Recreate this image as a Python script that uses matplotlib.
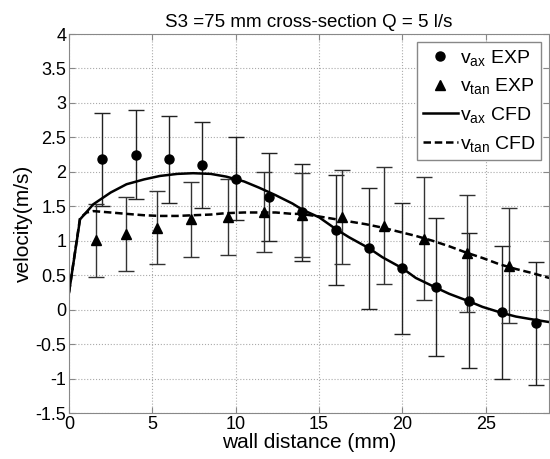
import numpy as np
import matplotlib
matplotlib.use('Agg')
import matplotlib.pyplot as plt

plt.rcParams['font.family'] = ['Liberation Sans', 'DejaVu Sans']
plt.rcParams['mathtext.fontset'] = 'custom'
plt.rcParams['mathtext.rm'] = 'Liberation Sans'
plt.rcParams['mathtext.it'] = 'Liberation Sans'

# experimental axial velocity
x_ax = [2, 4, 6, 8, 10, 12, 14, 16, 18, 20, 22, 24, 26, 28]
v_ax = [2.18, 2.25, 2.18, 2.10, 1.90, 1.64, 1.41, 1.16, 0.89, 0.60, 0.33, 0.13, -0.04, -0.20]
e_ax = [0.68, 0.65, 0.63, 0.62, 0.60, 0.64, 0.71, 0.80, 0.88, 0.95, 1.00, 0.98, 0.96, 0.89]

# experimental tangential velocity
x_tan = [1.6, 3.4, 5.3, 7.3, 9.55, 11.7, 14.0, 16.4, 18.9, 21.3, 23.9, 26.4]
v_tan = [1.01, 1.10, 1.19, 1.31, 1.35, 1.42, 1.38, 1.34, 1.22, 1.03, 0.82, 0.64]
e_tan = [0.53, 0.54, 0.53, 0.54, 0.55, 0.58, 0.61, 0.68, 0.85, 0.89, 0.85, 0.83]

# CFD profiles
x_cfd_ax = [0, 0.66, 1.46, 2.5, 3.45, 4.5, 5.45, 6.5, 7.44, 8.5, 9.44, 10.5, 11.4, 12.4,
            13.4, 14.0, 15.0, 16.0, 16.8, 18.0, 18.8, 20.0, 20.8, 22.0, 22.8, 24.0,
            24.8, 26.0, 26.8, 28.0, 28.8]
v_cfd_ax = [0.25, 1.31, 1.53, 1.70, 1.82, 1.89, 1.94, 1.97, 1.98, 1.97, 1.93, 1.86, 1.77, 1.66,
            1.54, 1.45, 1.34, 1.17, 1.05, 0.89, 0.76, 0.60, 0.46, 0.32, 0.23, 0.12,
            0.04, -0.05, -0.10, -0.15, -0.18]
x_cfd_tan = [0, 0.66, 1.06, 1.46, 2.5, 3.45, 4.5, 5.45, 6.5, 7.44, 8.5, 9.4, 10.5, 11.4,
             12.4, 13.4, 13.8, 14.8, 15.8, 16.8, 17.8, 18.8, 19.8, 20.8, 21.8, 22.8,
             23.8, 24.8, 25.8, 26.8, 27.8, 28.8]
v_cfd_tan = [0.25, 1.33, 1.41, 1.43, 1.41, 1.39, 1.37, 1.36, 1.36, 1.37, 1.38, 1.40, 1.41, 1.41,
             1.41, 1.39, 1.39, 1.36, 1.32, 1.28, 1.24, 1.19, 1.13, 1.07, 1.00, 0.92,
             0.83, 0.75, 0.66, 0.59, 0.53, 0.46]

fig = plt.figure(figsize=(5.5, 4.59), dpi=100)
ax = fig.add_axes([0.1255, 0.1002, 0.873, 0.8257])

# error bars (no legend entry)
ax.errorbar(x_ax, v_ax, yerr=e_ax, fmt='none', ecolor='#222222',
            elinewidth=1.0, capsize=6, capthick=1.0, zorder=2)
ax.errorbar(x_tan, v_tan, yerr=e_tan, fmt='none', ecolor='#333333',
            elinewidth=1.0, capsize=6, capthick=1.0, zorder=2)

ax.plot(x_ax, v_ax, 'o', color='black', ms=6.5, ls='none', label=r'$\mathregular{v_{ax}}$ EXP', zorder=3)
ax.plot(x_tan, v_tan, '^', color='black', ms=6.5, ls='none', label=r'$\mathregular{v_{tan}}$ EXP', zorder=3)
ax.plot(x_cfd_ax, v_cfd_ax, '-', color='black', lw=1.8, label=r'$\mathregular{v_{ax}}$ CFD')
ax.plot(x_cfd_tan, v_cfd_tan, '--', color='black', lw=1.8, dashes=(3, 1.5), label=r'$\mathregular{v_{tan}}$ CFD')

ax.set_xlim(0, 28.8)
ax.set_ylim(-1.5, 4)
ax.set_xticks([0, 5, 10, 15, 20, 25])
ax.set_yticks(np.arange(-1.5, 4.01, 0.5))
ax.set_yticklabels(['-1.5', '-1', '-0.5', '0', '0.5', '1', '1.5', '2', '2.5', '3', '3.5', '4'])
ax.tick_params(direction='in', top=True, right=True, labelsize=13, length=4, color='#888888', pad=2)
ax.grid(True, linestyle=':', color='#aaaaaa', lw=0.8)
for s in ax.spines.values():
    s.set_color('#888888')

ax.set_xlabel('wall distance (mm)', fontsize=15, labelpad=0)
ax.set_ylabel('velocity(m/s)', fontsize=15, labelpad=2)
ax.set_title('S3 =75 mm cross-section Q = 5 l/s', fontsize=13.5, pad=5)

leg = ax.legend(loc='upper right', fontsize=14, frameon=True, fancybox=False,
                handlelength=1.8, handletextpad=0.1, borderpad=0.3, labelspacing=0.45,
                borderaxespad=0.4, framealpha=1)
leg.get_frame().set_edgecolor('#888888')
leg.get_frame().set_linewidth(1.0)

plt.savefig('out.png', dpi=100)
